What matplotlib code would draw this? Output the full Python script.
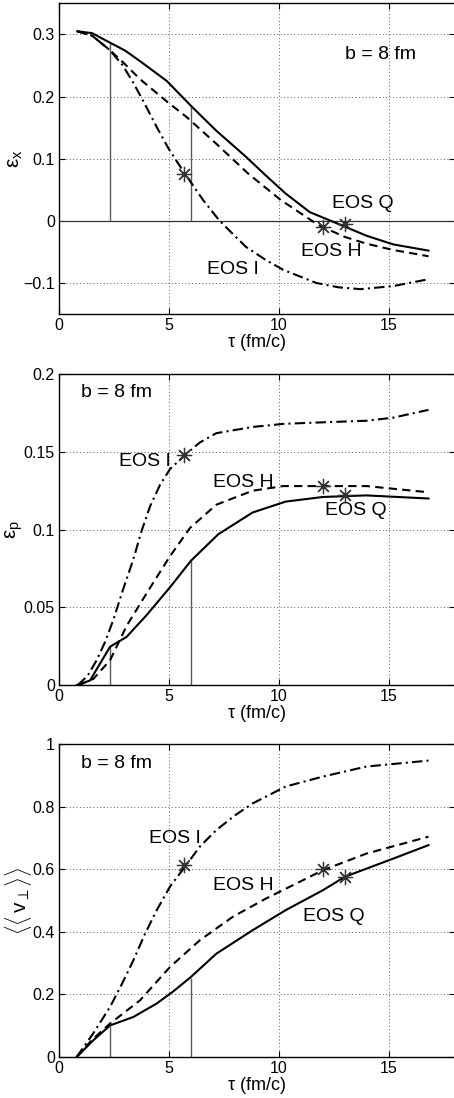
import numpy as np
import matplotlib.pyplot as plt

plt.rcParams['font.family'] = ['Liberation Sans', 'DejaVu Sans']
plt.rcParams['mathtext.fontset'] = 'custom'
plt.rcParams['mathtext.rm'] = 'Liberation Sans'
plt.rcParams['mathtext.it'] = 'Liberation Sans'

# ---- panel 1: spatial eccentricity eps_x ----
tx_q = [0.83, 1.5, 2.3, 3.0, 3.68, 4.9, 6.0, 7.15, 8.5, 9.4, 10.3, 11.4, 12.9, 13.98, 15.2, 16.8]
ex_q = [0.305, 0.302, 0.287, 0.274, 0.257, 0.225, 0.185, 0.145, 0.103, 0.073, 0.044, 0.014, -0.008, -0.024, -0.038, -0.048]
tx_h = [0.83, 1.5, 2.3, 3.0, 3.68, 4.9, 5.8, 7.15, 8.6, 10.1, 11.8, 13.0, 14.0, 15.2, 16.8]
ex_h = [0.305, 0.298, 0.275, 0.252, 0.228, 0.192, 0.167, 0.124, 0.076, 0.033, -0.007, -0.026, -0.037, -0.047, -0.057]
tx_i = [0.83, 1.5, 2.3, 2.9, 3.38, 3.9, 4.44, 5.0, 5.72, 6.56, 7.3, 8.5, 9.4, 10.2, 11.7, 12.7, 13.7, 15.2, 16.8]
ex_i = [0.305, 0.298, 0.275, 0.250, 0.222, 0.188, 0.151, 0.115, 0.076, 0.033, 0.0, -0.042, -0.063, -0.079, -0.100, -0.107, -0.110, -0.105, -0.094]

# ---- panel 2: momentum anisotropy eps_p ----
tp_q = [0.8, 1.41, 2.32, 3.07, 3.98, 5.05, 6.0, 7.24, 8.8, 10.3, 12.0, 13.98, 16.8]
ep_q = [0.0, 0.003, 0.0247, 0.031, 0.045, 0.063, 0.080, 0.097, 0.111, 0.118, 0.121, 0.122, 0.120]
tp_h = [0.9, 1.56, 2.32, 3.07, 3.98, 5.05, 5.95, 7.15, 8.8, 10.2, 12.0, 13.98, 16.8]
ep_h = [0.0, 0.004, 0.016, 0.038, 0.059, 0.083, 0.101, 0.116, 0.125, 0.128, 0.128, 0.128, 0.124]
tp_i = [0.85, 1.3, 1.71, 2.1, 2.47, 2.9, 3.38, 3.75, 4.14, 4.6, 5.05, 5.73, 6.4, 7.15, 8.8, 10.2, 12.0, 13.98, 15.2, 16.8]
ep_i = [0.0, 0.006, 0.016, 0.028, 0.042, 0.061, 0.081, 0.099, 0.115, 0.129, 0.139, 0.148, 0.156, 0.162, 0.166, 0.168, 0.169, 0.170, 0.172, 0.177]

# ---- panel 3: mean transverse flow <<v_perp>> ----
tv_q = [0.8, 1.55, 2.32, 3.38, 4.44, 5.2, 6.0, 7.15, 8.8, 10.3, 12.0, 13.0, 15.2, 16.8]
v_q = [0.0, 0.053, 0.101, 0.128, 0.171, 0.210, 0.256, 0.330, 0.405, 0.469, 0.533, 0.576, 0.634, 0.677]
tv_h = [0.8, 1.5, 2.32, 3.68, 5.05, 6.4, 7.9, 9.4, 10.95, 12.0, 13.98, 16.8]
v_h = [0.0, 0.055, 0.107, 0.181, 0.288, 0.373, 0.448, 0.506, 0.560, 0.597, 0.650, 0.704]
tv_i = [0.8, 1.55, 2.32, 2.85, 3.38, 3.9, 4.44, 5.05, 5.73, 6.4, 7.15, 8.0, 8.8, 10.3, 12.0, 13.98, 16.8]
v_i = [0.0, 0.075, 0.160, 0.232, 0.309, 0.392, 0.469, 0.545, 0.608, 0.672, 0.725, 0.772, 0.810, 0.864, 0.896, 0.928, 0.947]

# star markers (I, H, Q) and vertical marker lines
star_t = [5.7, 12.0, 13.0]
star_x = [0.075, -0.01, -0.005]
star_p = [0.148, 0.128, 0.122]
star_v = [0.612, 0.600, 0.575]
vline_t = [2.3, 6.0]
vline_x = [0.287, 0.184]
vline_p = [0.025, 0.080]
vline_v = [0.100, 0.253]

panels = [
    dict(pos=[0.130, 0.714, 0.872, 0.283], ylim=(-0.15, 0.35),
         yticks=[-0.1, 0, 0.1, 0.2, 0.3], yticklabels=['\u22120.1', '0', '0.1', '0.2', '0.3'],
         ylabel='\u03b5$_\\mathregular{x}$',
         curves=[(tx_q, ex_q), (tx_h, ex_h), (tx_i, ex_i)], stars=star_x, vl=vline_x,
         labels=[('EOS Q', 13.8, 0.028), ('EOS H', 12.4, -0.05), ('EOS I', 7.9, -0.079)],
         b=(14.6, 0.268), zero=True),
    dict(pos=[0.130, 0.376, 0.872, 0.2833], ylim=(0, 0.2),
         yticks=[0, 0.05, 0.1, 0.15, 0.2], yticklabels=['0', '0.05', '0.1', '0.15', '0.2'],
         ylabel='\u03b5$_\\mathregular{p}$',
         curves=[(tp_q, ep_q), (tp_h, ep_h), (tp_i, ep_i)], stars=star_p, vl=vline_p,
         labels=[('EOS Q', 13.5, 0.112), ('EOS H', 8.4, 0.130), ('EOS I', 3.9, 0.144)],
         b=(2.6, 0.188), zero=False),
    dict(pos=[0.130, 0.0373, 0.872, 0.2851], ylim=(0, 1),
         yticks=[0, 0.2, 0.4, 0.6, 0.8, 1], yticklabels=['0', '0.2', '0.4', '0.6', '0.8', '1'],
         ylabel=r'$\langle\langle\,\mathregular{v}_\perp\rangle\rangle$',
         curves=[(tv_q, v_q), (tv_h, v_h), (tv_i, v_i)], stars=star_v, vl=vline_v,
         labels=[('EOS Q', 12.5, 0.448), ('EOS H', 8.4, 0.549), ('EOS I', 5.27, 0.698)],
         b=(2.6, 0.938), zero=False),
]

styles = ['-', (0, (4, 2.5)), (0, (5, 2, 1, 2))]

fig = plt.figure(figsize=(4.54, 10.98), dpi=100)
for p in panels:
    ax = fig.add_axes(p['pos'])
    ax.set_xlim(0, 18)
    ax.set_ylim(*p['ylim'])
    ax.set_xticks([0, 5, 10, 15])
    ax.set_yticks(p['yticks'])
    ax.set_yticklabels(p['yticklabels'])
    ax.grid(True, linestyle=(0, (1, 2.5)), color='0.35', linewidth=0.7)
    ax.tick_params(direction='in', labelsize=11.5, length=4, pad=3, top=True, right=True)
    for s in ax.spines.values():
        s.set_linewidth(1.0)
    if p['zero']:
        ax.axhline(0, color='0.2', lw=0.9)
    for t, top in zip(vline_t, p['vl']):
        ax.vlines(t, 0, top, color='0.35', lw=1.0)
    for (t, y), ls in zip(p['curves'], styles):
        ax.plot(t, y, color='black', lw=1.5, linestyle=ls)
    ax.plot(star_t, p['stars'], linestyle='none', marker=(8, 2, 0), ms=11,
            mec='0.2', mew=0.9)
    for txt, x, y in p['labels']:
        ax.text(x, y, txt, ha='center', va='center', fontsize=14)
    ax.text(p['b'][0], p['b'][1], 'b = 8 fm', ha='center', va='center', fontsize=14)
    ax.set_xlabel(r'$\tau$ (fm/c)', fontsize=13, labelpad=-1)
    ax.set_ylabel(p['ylabel'], fontsize=15, labelpad=-1)

fig.savefig('out.png', dpi=100)
